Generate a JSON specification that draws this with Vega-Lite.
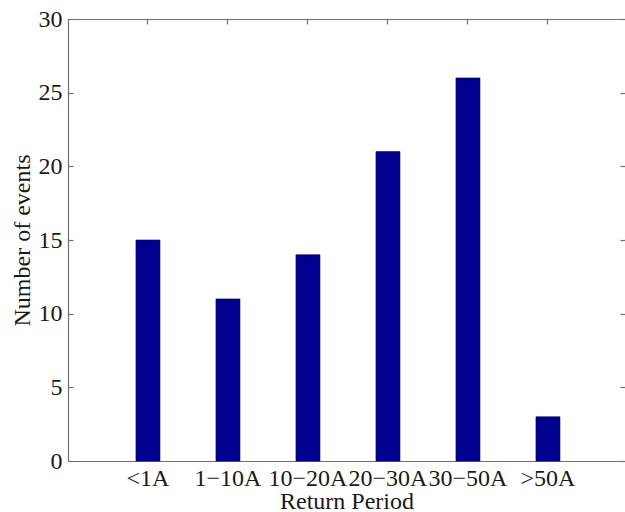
{
  "$schema": "https://vega.github.io/schema/vega-lite/v6.json",
  "autosize": "none",
  "width": 557,
  "height": 442,
  "padding": {"left": 68, "top": 19, "right": 0, "bottom": 51},
  "background": "white",
  "config": {
    "view": {"stroke": null},
    "font": "Liberation Serif",
    "axis": {
      "grid": false,
      "domainColor": "#707070",
      "tickColor": "#707070",
      "labelFont": "Liberation Serif",
      "titleFont": "Liberation Serif",
      "labelFontSize": 24,
      "titleFontSize": 24,
      "labelColor": "#1a1a1a",
      "titleColor": "#1a1a1a",
      "titleFontWeight": "normal",
      "tickSize": -5,
      "domainWidth": 1.2,
      "tickWidth": 1.2
    }
  },
  "data": {
    "values": [
      {"period": "<1A", "events": 15},
      {"period": "1\u221210A", "events": 11},
      {"period": "10\u221220A", "events": 14},
      {"period": "20\u221230A", "events": 21},
      {"period": "30\u221250A", "events": 26},
      {"period": ">50A", "events": 3}
    ]
  },
  "layer": [
    {
      "mark": {"type": "bar", "color": "#000090", "stroke": "#000060", "strokeWidth": 0.6},
      "encoding": {
        "x": {
          "field": "period", "type": "nominal", "sort": null,
          "scale": {"paddingInner": 0.7, "paddingOuter": 0.83125, "align": 0.511},
          "axis": {"orient": "bottom", "title": "Return Period", "labelAngle": 0, "labelPadding": 10, "titlePadding": -1, "labelOverlap": false}
        },
        "y": {
          "field": "events", "type": "quantitative",
          "scale": {"domain": [0, 30], "nice": false},
          "axis": {"orient": "left", "title": "Number of events", "values": [0, 5, 10, 15, 20, 25, 30], "labelPadding": 11, "titlePadding": 4}
        }
      }
    },
    {
      "mark": {"type": "bar", "opacity": 0},
      "encoding": {
        "x": {
          "field": "period", "type": "nominal", "sort": null,
          "axis": {"orient": "top", "title": null, "labels": false}
        },
        "y": {
          "field": "events", "type": "quantitative",
          "axis": {"orient": "right", "title": null, "labels": false, "domain": false, "values": [0, 5, 10, 15, 20, 25, 30]}
        }
      }
    }
  ],
  "resolve": {"axis": {"x": "independent", "y": "independent"}}
}
